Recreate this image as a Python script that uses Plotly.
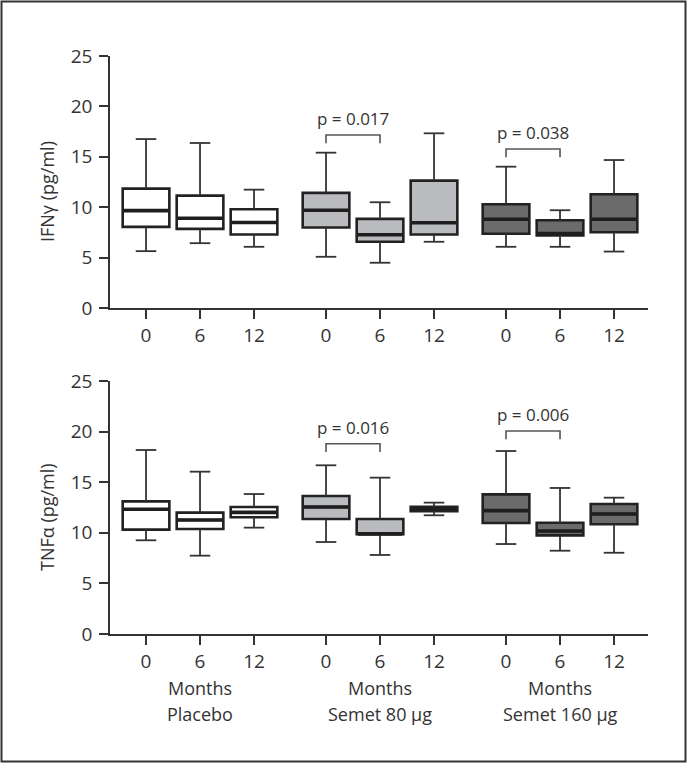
import plotly.graph_objects as go

# ---------------- data ----------------
groups = ["Placebo", "Semet 80 µg", "Semet 160 µg"]
months = ["0", "6", "12"]

# IFN-gamma (pg/ml): per box [Placebo 0,6,12, Semet80 0,6,12, Semet160 0,6,12]
ifn_min = [5.64, 6.43, 6.07, 5.08, 4.49, 6.57, 6.07, 6.07, 5.60]
ifn_q1 = [8.05, 7.85, 7.29, 7.98, 6.57, 7.29, 7.36, 7.19, 7.52]
ifn_med = [9.66, 8.91, 8.48, 9.70, 7.26, 8.45, 8.81, 7.39, 8.81]
ifn_q3 = [11.84, 11.15, 9.80, 11.42, 8.84, 12.64, 10.30, 8.71, 11.29]
ifn_max = [16.76, 16.37, 11.74, 15.41, 10.49, 17.33, 14.02, 9.70, 14.68]

# TNF-alpha (pg/ml)
tnf_min = [9.26, 7.74, 10.51, 9.09, 7.81, 11.73, 8.89, 8.23, 8.03]
tnf_q1 = [10.31, 10.38, 11.53, 11.36, 9.85, 12.13, 10.97, 9.75, 10.84]
tnf_med = [12.32, 11.26, 12.02, 12.55, 9.88, 12.35, 12.19, 10.18, 11.86]
tnf_q3 = [13.11, 11.99, 12.55, 13.64, 11.36, 12.58, 13.80, 11.00, 12.85]
tnf_max = [18.18, 16.04, 13.83, 16.67, 15.45, 12.98, 18.08, 14.43, 13.47]

# p-value brackets (0 vs 6 months) for Semet 80 and Semet 160
ifn_p = ["p = 0.017", "p = 0.038"]
ifn_bracket = [17.16, 15.77]
tnf_p = ["p = 0.016", "p = 0.006"]
tnf_bracket = [18.80, 20.06]

fills = ["#ffffff", "#b9bbbe", "#6b6b6b"]

# ---------------- layout helpers ----------------
GAP = 1 / 3
pos = [g * (3 + GAP) + i for g in range(3) for i in range(3)]
BOXW = 0.864
CAP = 0.19
DROP = 0.82
TXT = "#333333"

fig = go.Figure()


def add_panel(mn, q1, med, q3, mx, xa, ya, brk, ptxt):
    # whiskers
    wx, wy = [], []
    for k in range(9):
        x = pos[k]
        wx += [x, x, None, x - CAP, x + CAP, None, x, x, None, x - CAP, x + CAP, None]
        wy += [q3[k], mx[k], None, mx[k], mx[k], None, q1[k], mn[k], None, mn[k], mn[k], None]
    fig.add_trace(go.Scatter(x=wx, y=wy, mode="lines", xaxis=xa, yaxis=ya,
                             line=dict(color="#333333", width=1.8),
                             showlegend=False, hoverinfo="skip"))
    # boxes
    for g in range(3):
        sl = slice(g * 3, g * 3 + 3)
        fig.add_trace(go.Box(x=pos[sl], q1=q1[sl], median=med[sl], q3=q3[sl],
                             lowerfence=q1[sl], upperfence=q3[sl],
                             width=BOXW, whiskerwidth=0, boxpoints=False,
                             fillcolor=fills[g],
                             line=dict(color="#222222", width=2.6),
                             xaxis=xa, yaxis=ya, showlegend=False))
    # medians
    mxs, mys = [], []
    for k in range(9):
        mxs += [pos[k] - BOXW / 2 + 0.02, pos[k] + BOXW / 2 - 0.02, None]
        mys += [med[k], med[k], None]
    fig.add_trace(go.Scatter(x=mxs, y=mys, mode="lines", xaxis=xa, yaxis=ya,
                             line=dict(color="#1e1e1e", width=3.6),
                             showlegend=False, hoverinfo="skip"))
    # brackets
    for j, g in enumerate([1, 2]):
        a, b = pos[g * 3], pos[g * 3 + 1]
        h = brk[j]
        fig.add_trace(go.Scatter(x=[a, a, b, b], y=[h - DROP, h, h, h - DROP],
                                 mode="lines", xaxis=xa, yaxis=ya,
                                 line=dict(color="#555555", width=1.6),
                                 showlegend=False, hoverinfo="skip"))
        fig.add_annotation(x=(a + b) / 2, y=h, xref=xa, yref=ya, yanchor="bottom",
                           xanchor="center", yshift=3, text=ptxt[j], showarrow=False,
                           font=dict(size=17, color=TXT))


add_panel(ifn_min, ifn_q1, ifn_med, ifn_q3, ifn_max, "x", "y", ifn_bracket, ifn_p)
add_panel(tnf_min, tnf_q1, tnf_med, tnf_q3, tnf_max, "x2", "y2", tnf_bracket, tnf_p)

W, H = 687, 763
L, R, T, B = 110, 39, 56, 129
pw, ph = W - L - R, H - T - B

axis_common = dict(showline=True, linecolor="#333333", linewidth=1.6,
                   ticks="outside", ticklen=9, tickwidth=1.6, tickcolor="#333333",
                   showgrid=False, zeroline=False,
                   tickfont=dict(family="Open Sans", size=19, color=TXT))
xr = [-0.667, 9.296]
fig.update_layout(
    width=W, height=H,
    margin=dict(l=L, r=R, t=T, b=B),
    paper_bgcolor="white", plot_bgcolor="white",
    font=dict(family="Open Sans", color=TXT),
    xaxis=dict(axis_common, domain=[0, 1], range=xr, anchor="y",
               tickvals=pos, ticktext=months * 3, ticklabelstandoff=0),
    yaxis=dict(axis_common, domain=[(634 - 308) / ph, 1], range=[0, 25],
               tickvals=[0, 5, 10, 15, 20, 25], anchor="x", ticklabelstandoff=3),
    xaxis2=dict(axis_common, domain=[0, 1], range=xr, anchor="y2",
                tickvals=pos, ticktext=months * 3, ticklabelstandoff=0),
    yaxis2=dict(axis_common, domain=[0, (634 - 381) / ph], range=[0, 25],
                tickvals=[0, 5, 10, 15, 20, 25], anchor="x2", ticklabelstandoff=3),
)

# y-axis titles
fig.add_annotation(x=(47 - L) / pw, y=(634 - 192) / ph, xref="paper", yref="paper",
                   xanchor="center", yanchor="middle",
                   text="IFNγ (pg/ml)", textangle=-90, showarrow=False,
                   font=dict(size=18, color=TXT))
fig.add_annotation(x=(47 - L) / pw, y=(634 - 517) / ph, xref="paper", yref="paper",
                   xanchor="center", yanchor="middle",
                   text="TNFα (pg/ml)", textangle=-90, showarrow=False,
                   font=dict(size=18, color=TXT))

# group labels
for g, name in enumerate(groups):
    xc = pos[g * 3 + 1]
    fig.add_annotation(x=xc, y=-(688 - 634) / ph, xref="x2", yref="paper",
                       xanchor="center", yanchor="middle",
                       text="Months", showarrow=False, font=dict(size=18, color=TXT))
    fig.add_annotation(x=xc, y=-(714 - 634) / ph, xref="x2", yref="paper",
                       xanchor="center", yanchor="middle",
                       text=name, showarrow=False, font=dict(size=18, color=TXT))

# outer frame
fig.add_shape(type="rect", xref="paper", yref="paper",
              x0=(1.5 - L) / pw, x1=(W - 1.5 - L) / pw,
              y0=-(H - 1.5 - (T + ph)) / ph, y1=(T + ph - 1.5) / ph,
              line=dict(color="#333333", width=2), layer="below")

fig.write_html("out.html", config={"displayModeBar": False},
               post_script="document.body.style.margin='0';document.body.style.overflow='hidden';")
